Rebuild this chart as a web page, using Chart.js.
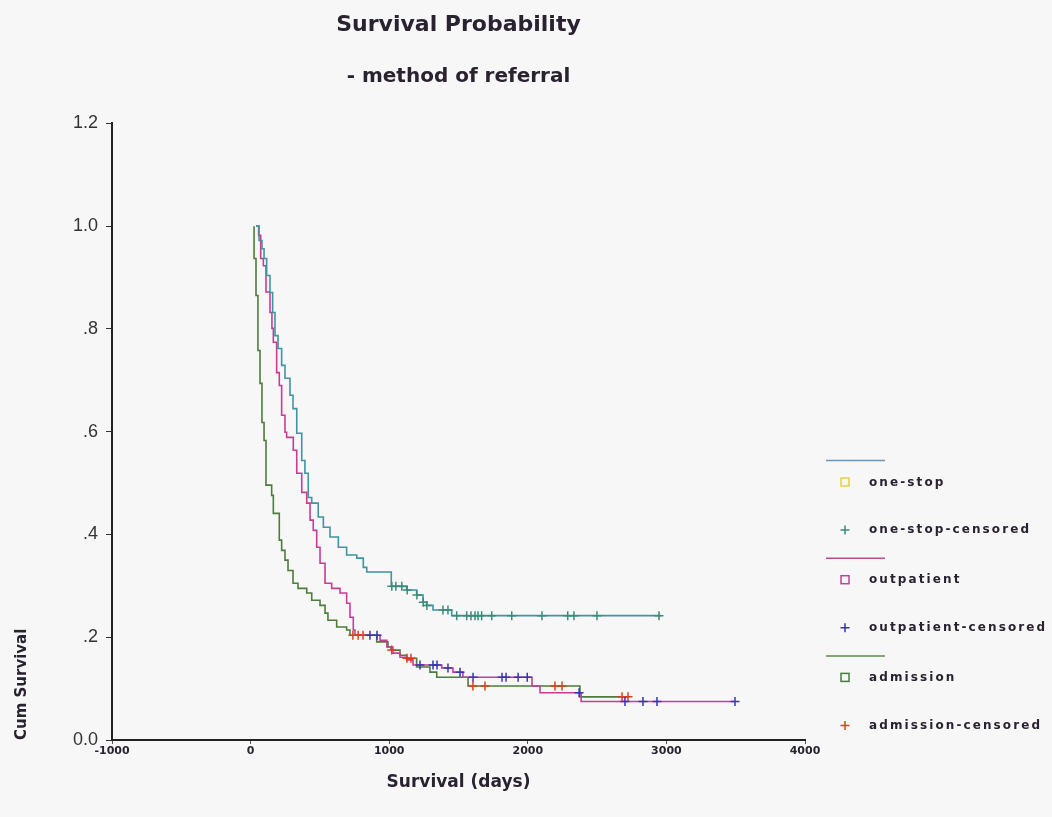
<!DOCTYPE html>
<html lang="en">
<head>
  <meta charset="UTF-8">
  <title>Survival Probability</title>
  <script src="https://cdn.jsdelivr.net/npm/chart.js"></script>
  <style>
    html, body {
      margin: 0;
      padding: 0;
      background: #f7f7f7;
    }
  </style>
</head>
<body>
  <canvas id="survChart" width="1052" height="817"></canvas>

  <script>
    // Kaplan-Meier steps: days and cum survival after each drop
    const oneStopDays = [39, 61, 82, 97, 116, 140, 159, 176, 198, 224, 248, 284, 306, 333, 369, 392, 416, 441, 488, 525, 573, 633, 693, 766, 813, 838, 1015, 1126, 1198, 1244, 1270, 1316, 1451, 2960];
    const oneStopSurv = [1.0, .972, .956, .937, .904, .871, .832, .787, .762, .729, .704, .671, .645, .597, .544, .519, .472, .461, .434, .414, .395, .375, .360, .354, .336, .327, .299, .292, .282, .268, .262, .253, .242, .242];
    const oneStopCensDays = [1019, 1048, 1091, 1130, 1200, 1246, 1272, 1388, 1424, 1487, 1559, 1590, 1619, 1641, 1667, 1740, 1884, 2102, 2288, 2333, 2499, 2947];
    const oneStopCensSurv = [.299, .299, .299, .292, .282, .268, .262, .253, .253, .242, .242, .242, .242, .242, .242, .242, .242, .242, .242, .242, .242, .242];

    const outDays = [39, 58, 73, 92, 111, 140, 154, 164, 188, 207, 224, 248, 260, 308, 333, 369, 405, 429, 452, 477, 501, 537, 585, 645, 693, 717, 741, 753, 934, 983, 1027, 1078, 1126, 1172, 1379, 1460, 1532, 2030, 2088, 2385, 3495];
    const outSurv = [1.0, .982, .937, .923, .872, .832, .801, .774, .715, .690, .632, .599, .589, .564, .519, .482, .461, .428, .408, .375, .344, .305, .295, .286, .266, .239, .214, .204, .194, .181, .169, .161, .156, .146, .140, .132, .122, .105, .092, .075, .075];
    const outCensDays = [861, 912, 1222, 1316, 1345, 1424, 1511, 1605, 1814, 1843, 1930, 1996, 2370, 2701, 2831, 2932, 3495];
    const outCensSurv = [.204, .204, .146, .146, .146, .140, .132, .122, .122, .122, .122, .122, .092, .075, .075, .075, .075];

    const admDays = [25, 25, 39, 53, 68, 82, 97, 111, 152, 164, 207, 224, 248, 270, 306, 342, 405, 441, 501, 537, 558, 621, 693, 717, 910, 991, 1013, 1078, 1126, 1198, 1294, 1343, 1569, 2376, 2723];
    const admSurv = [1.0, .937, .865, .758, .694, .618, .583, .496, .476, .441, .389, .369, .350, .330, .305, .295, .286, .272, .262, .247, .233, .220, .214, .204, .191, .181, .175, .165, .159, .142, .132, .122, .105, .084, .084];
    const admCensDays = [738, 776, 811, 1018, 1128, 1157, 1604, 1691, 2196, 2247, 2680, 2723];
    const admCensSurv = [.204, .204, .204, .175, .159, .159, .105, .105, .105, .105, .084, .084];

    const xTickValues = [-1000, 0, 1000, 2000, 3000, 4000];
    const yTickValues = [0, 0.2, 0.4, 0.6, 0.8, 1.0, 1.2];
    const yTickLabels = ['0.0', '.2', '.4', '.6', '.8', '1.0', '1.2'];

    const legendLabels = ['one-stop', 'one-stop-censored', 'outpatient', 'outpatient-censored', 'admission', 'admission-censored'];

    function pts(xs, ys) {
      return xs.map((x, i) => ({ x: x, y: ys[i] }));
    }

    // group colours: curve line, legend line, legend square, censor cross
    const groups = [
      { line: '#3f95a0', legLine: '#6a98bc', box: '#e2d24e', cross: '#3a8c78' },
      { line: '#c83c96', legLine: '#c04a8a', box: '#b24a92', cross: '#3535b5' },
      { line: '#4d7d3a', legLine: '#5a8a4a', box: '#4a7a45', cross: '#d8401e' }
    ];

    function drawCross(ctx, x, y, r) {
      ctx.beginPath();
      ctx.moveTo(x - r, y); ctx.lineTo(x + r, y);
      ctx.moveTo(x, y - r); ctx.lineTo(x, y + r);
      ctx.stroke();
    }

    const bgPlugin = {
      id: 'bg',
      beforeDraw(chart) {
        const ctx = chart.ctx;
        ctx.save();
        ctx.fillStyle = '#f7f7f7';
        ctx.fillRect(0, 0, chart.width, chart.height);
        ctx.restore();
      }
    };

    const legendPlugin = {
      id: 'kmLegend',
      afterDraw(chart) {
        const ctx = chart.ctx;
        ctx.save();
        ctx.font = 'bold 12px "DejaVu Sans"';
        ctx.letterSpacing = '2.1px';
        ctx.textBaseline = 'middle';
        ctx.fillStyle = '#2a2230';
        ctx.lineWidth = 1.5;
        groups.forEach(function(g, i) {
          const y0 = 460.5 + i * 97.7;
          ctx.strokeStyle = g.legLine;
          ctx.beginPath();
          ctx.moveTo(826, y0);
          ctx.lineTo(885, y0);
          ctx.stroke();

          ctx.strokeStyle = g.box;
          ctx.strokeRect(841, y0 + 17.5, 8, 8);
          ctx.fillText(legendLabels[i * 2], 869, y0 + 22);

          ctx.strokeStyle = g.cross;
          drawCross(ctx, 845, y0 + 69.5, 4.5);
          ctx.fillText(legendLabels[i * 2 + 1], 869, y0 + 69.5);
        });
        ctx.restore();
      }
    };

    const lineStyle = { stepped: true, pointRadius: 0, borderWidth: 1.6, fill: false, order: 1 };
    const crossStyle = { type: 'scatter', pointStyle: 'cross', pointRadius: 4.5, pointHoverRadius: 4.5, pointBorderWidth: 1.5, order: 0 };

    const ctx = document.getElementById('survChart').getContext('2d');
    const survChart = new Chart(ctx, {
      type: 'line',
      data: {
        datasets: [
          Object.assign({ label: 'one-stop', data: pts(oneStopDays, oneStopSurv), borderColor: groups[0].line }, lineStyle),
          Object.assign({ label: 'one-stop-censored', data: pts(oneStopCensDays, oneStopCensSurv), borderColor: groups[0].cross, pointBorderColor: groups[0].cross }, crossStyle),
          Object.assign({ label: 'outpatient', data: pts(outDays, outSurv), borderColor: groups[1].line }, lineStyle),
          Object.assign({ label: 'outpatient-censored', data: pts(outCensDays, outCensSurv), borderColor: groups[1].cross, pointBorderColor: groups[1].cross }, crossStyle),
          Object.assign({ label: 'admission', data: pts(admDays, admSurv), borderColor: groups[2].line }, lineStyle),
          Object.assign({ label: 'admission-censored', data: pts(admCensDays, admCensSurv), borderColor: groups[2].cross, pointBorderColor: groups[2].cross }, crossStyle)
        ]
      },
      options: {
        responsive: false,
        animation: false,
        layout: { padding: { left: 0, right: 247, top: 0, bottom: 0 } },
        plugins: {
          legend: { display: false },
          tooltip: { enabled: false },
          title: {
            display: true,
            text: 'Survival Probability',
            fullSize: false,
            color: '#2a2230',
            font: { family: 'DejaVu Sans', size: 22, weight: 'bold' },
            padding: { top: 12, bottom: 0 }
          },
          subtitle: {
            display: true,
            text: '- method of referral',
            fullSize: false,
            color: '#2a2230',
            font: { family: 'DejaVu Sans', size: 20, weight: 'bold' },
            padding: { top: 26, bottom: 35 }
          }
        },
        scales: {
          x: {
            type: 'linear',
            min: -1000,
            max: 4000,
            afterFit: function(scale) { scale.height = 77; },
            afterBuildTicks: function(scale) { scale.ticks = xTickValues.map(v => ({ value: v })); },
            grid: { display: true, drawOnChartArea: false, drawTicks: true, tickLength: 4, color: '#555' },
            border: { display: true, color: '#222', width: 2 },
            ticks: {
              padding: 1,
              color: '#2a2230',
              font: { family: 'DejaVu Sans', size: 11, weight: 'bold' },
              callback: function(value) { return String(value); }
            },
            title: {
              display: true,
              text: 'Survival (days)',
              color: '#2a2230',
              font: { family: 'DejaVu Sans', size: 17, weight: 'bold' },
              padding: { top: 0, bottom: 24 }
            }
          },
          y: {
            min: 0,
            max: 1.2,
            afterFit: function(scale) { scale.width = 112; },
            afterBuildTicks: function(scale) { scale.ticks = yTickValues.map(v => ({ value: v })); },
            grid: { display: true, drawOnChartArea: false, drawTicks: true, tickLength: 6, color: '#333' },
            border: { display: true, color: '#222', width: 2 },
            ticks: {
              padding: 8,
              color: '#333',
              font: { family: 'Liberation Sans', size: 18 },
              callback: function(value, index) { return yTickLabels[index]; }
            },
            title: {
              display: true,
              text: 'Cum Survival',
              align: 'start',
              color: '#2a2230',
              font: { family: 'DejaVu Sans', size: 15, weight: 'bold' },
              padding: { top: 13, bottom: 0 }
            }
          }
        }
      },
      plugins: [bgPlugin, legendPlugin]
    });
  </script>
</body>
</html>
